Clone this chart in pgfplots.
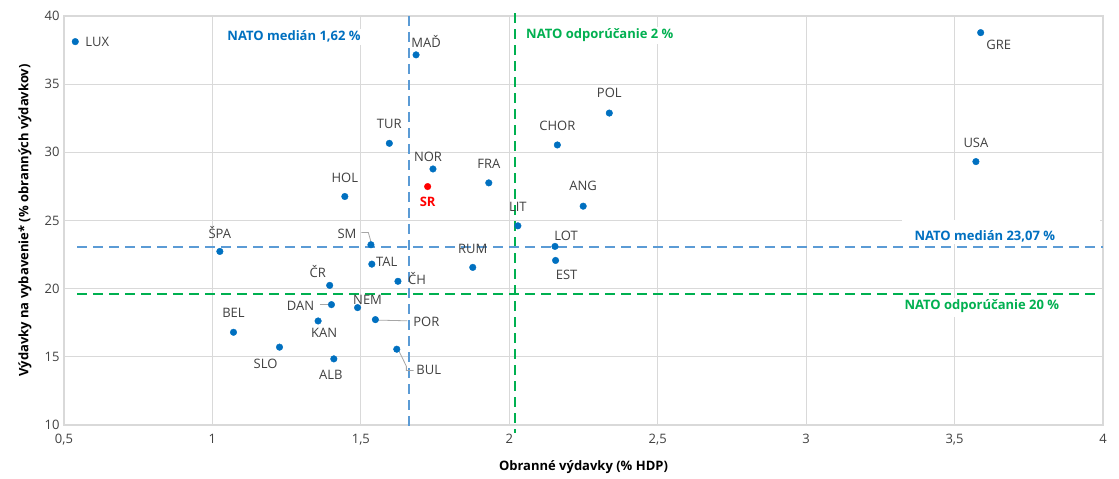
\documentclass[border=0pt]{standalone}
\usepackage{fontspec}
\setmainfont{Open Sans}
\usepackage{pgfplots}
\usepackage{pgfplotstable}
\pgfplotsset{compat=1.18}
\definecolor{ptblue}{HTML}{0070C0}
\definecolor{lnblue}{HTML}{5B9BD5}
\definecolor{lngreen}{HTML}{00B050}
\definecolor{gridc}{HTML}{D9D9D9}
\definecolor{txt}{HTML}{404040}
\definecolor{lead}{HTML}{A6A6A6}

\pgfplotstableread{
x y lab dx dy
0.538 38.12 LUX 22 0
1.686 37.15 MAĎ 10 13
1.596 30.66 TUR 0 19
1.743 28.78 NOR -5 12
1.931 27.76 FRA 0 19
1.446 26.76 HOL 0 19
2.162 30.54 CHOR 0 19
2.337 32.88 POL 0 20
3.572 29.32 USA 0 19
2.249 26.05 ANG 0 20
3.588 38.78 GRE 18 -12
2.029 24.61 LIT 0 19
2.154 23.10 LOT 11 11
2.156 22.07 EST 11 -14
1.025 22.73 ŠPA 0 19
1.534 23.22 SM -24 11
1.537 21.80 TAL 15 2
1.395 20.24 ČR -12 14
1.625 20.54 ČH 19 3
1.877 21.56 RUM 0 18
1.401 18.83 DAN -31 -1
1.489 18.61 NEM 10 8
1.549 17.73 POR 51 -2
1.356 17.63 KAN 6 -12
1.071 16.80 BEL 0 19
1.226 15.71 SLO -14 -17
1.409 14.85 ALB -3 -16
1.621 15.56 BUL 32 -21
}\countries

\pgfplotstableread{
x y
1.725 27.49
}\slovakia

\newcommand{\fs}{\fontsize{13}{15}\selectfont}

\begin{document}
\begin{tikzpicture}
\useasboundingbox (-64pt,-54pt) rectangle (1055pt,425pt);
\begin{axis}[
  scale only axis, width=1039pt, height=409pt,
  at={(0,0)}, anchor=south west,
  xmin=0.5, xmax=4, ymin=10, ymax=40,
  xtick={0.5,1,1.5,2,2.5,3,3.5,4},
  xticklabels={{0,5},1,{1,5},2,{2,5},3,{3,5},4},
  ytick={10,15,20,25,30,35,40},
  /pgf/number format/assume math mode=true,
  grid=major,
  grid style={gridc, line width=1.2pt},
  axis line style={gridc, line width=1.2pt},
  major tick style={draw=none},
  tick label style={font=\fs, text=txt},
  xticklabel style={yshift=-6pt},
  yticklabel style={xshift=-1pt},
  xlabel={Obranné výdavky (\% HDP)},
  ylabel={Výdavky na vybavenie* (\% obranných výdavkov)},
  label style={font=\fs\bfseries, text=black},
  xlabel style={at={(axis description cs:0.5,-0.103)}, anchor=center},
  ylabel style={at={(axis description cs:-0.0375,0.5)}, anchor=center},
  clip=false,
]
% white boxes behind annotation texts
\fill[white] (axis cs:3.322,25.0) rectangle (axis cs:3.99,23.28);
\fill[white] (axis cs:3.326,19.32) rectangle (axis cs:3.99,17.92);

% reference lines
\addplot[lnblue, line width=1.8pt, dash pattern=on 10pt off 6pt] coordinates {(1.663,40.0) (1.663,9.51)};
\addplot[lngreen, line width=1.8pt, dash pattern=on 10pt off 6pt] coordinates {(2.020,40.2) (2.020,9.41)};
\addplot[lnblue, line width=1.8pt, dash pattern=on 10pt off 6pt] coordinates {(0.544,23.07) (4.0,23.07)};
\addplot[lngreen, line width=1.8pt, dash pattern=on 10pt off 6pt] coordinates {(0.545,19.63) (3.98,19.63)};

% leader lines
\draw[lead, line width=0.8pt] ([xshift=-9.6pt,yshift=12.3pt]axis cs:1.534,23.22) -- ([xshift=-2.6pt,yshift=12.3pt]axis cs:1.534,23.22) -- ([yshift=3pt]axis cs:1.534,23.22);
\draw[lead, line width=0.8pt] ([xshift=-11.8pt]axis cs:1.401,18.83) -- ([xshift=-2pt]axis cs:1.401,18.83);
\draw[lead, line width=0.8pt] ([xshift=2pt,yshift=-0.5pt]axis cs:1.549,17.73) -- ([xshift=32pt,yshift=-1.2pt]axis cs:1.549,17.73);
\draw[lead, line width=0.8pt] ([xshift=2pt,yshift=-1.5pt]axis cs:1.621,15.56) -- ([xshift=9.6pt,yshift=-17pt]axis cs:1.621,15.56) -- ([xshift=9.6pt,yshift=-21.3pt]axis cs:1.621,15.56) -- ([xshift=16.8pt,yshift=-21.3pt]axis cs:1.621,15.56);

% countries
\addplot[only marks, mark=*, mark size=3.3pt, color=ptblue,
  point meta=explicit symbolic,
  nodes near coords,
  visualization depends on={\thisrow{dx}\as\ldx},
  visualization depends on={\thisrow{dy}\as\ldy},
  every node near coord/.append style={anchor=center, xshift=\ldx pt, yshift=\ldy pt, text=txt, font=\fs, inner sep=0pt},
] table[x=x, y=y, meta=lab] {\countries};

% Slovakia
\addplot[only marks, mark=*, mark size=3.3pt, color=red,
  nodes near coords={\textbf{SR}},
  every node near coord/.append style={anchor=center, yshift=-15pt, text=red, font=\fs, inner sep=0pt},
] table[x=x, y=y] {\slovakia};

% annotation texts
\node[fill=white, inner sep=2pt, text=ptblue, font=\fs\bfseries] at (axis cs:1.275,38.47) {NATO medián 1,62 \%};
\node[fill=white, inner sep=2pt, text=lngreen, font=\fs\bfseries] at (axis cs:2.305,38.6) {NATO odporúčanie 2 \%};
\node[inner sep=0pt, text=ptblue, font=\fs\bfseries] at (axis cs:3.602,23.87) {NATO medián 23,07 \%};
\node[inner sep=0pt, text=lngreen, font=\fs\bfseries] at (axis cs:3.592,18.75) {NATO odporúčanie 20 \%};
\end{axis}
\end{tikzpicture}
\end{document}
